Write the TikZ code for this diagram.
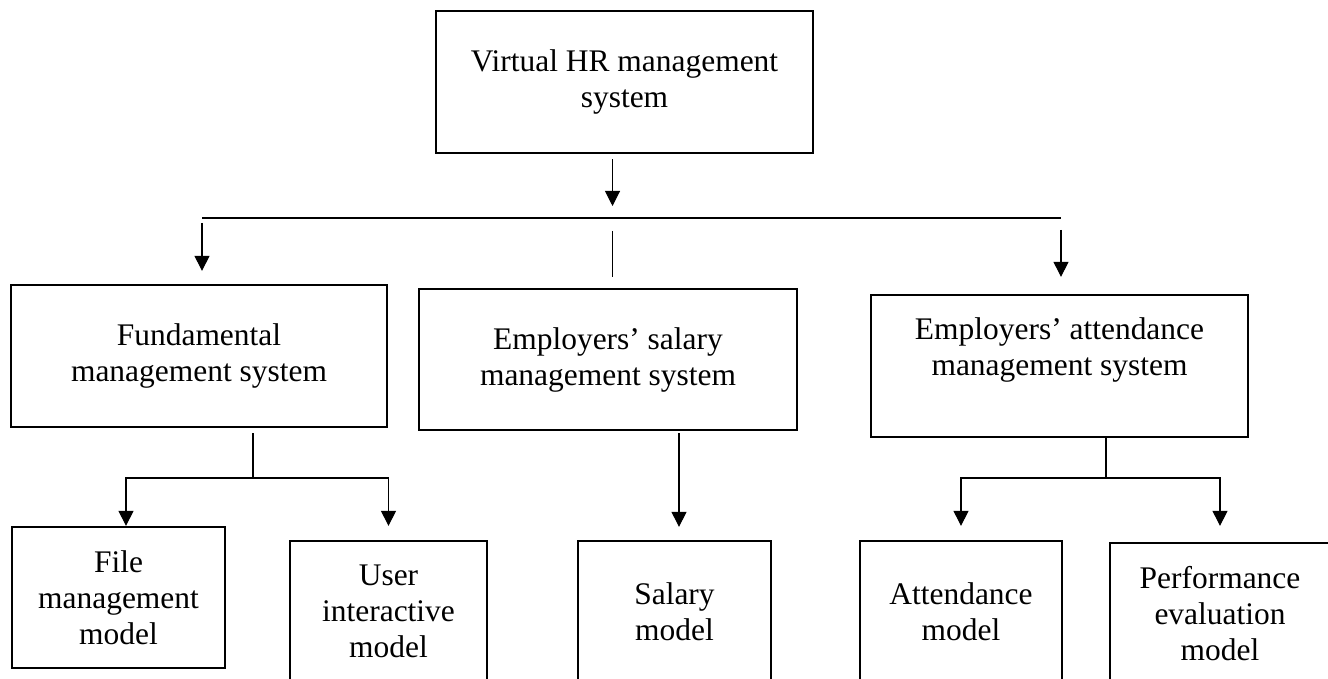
\documentclass[tikz,border=0pt]{standalone}
\usepackage{fontspec}
\setmainfont{Liberation Serif}
\usetikzlibrary{arrows.meta}

\begin{document}
\begin{tikzpicture}[line width=0.6pt, >={Triangle[width=0.3cm, length=0.3cm]},
		box/.style={rectangle, draw=black, line width=1.3pt, align=center, font=\fontsize{17.9}{20.5}\selectfont},
		sysbox/.style={box, minimum width=7.54cm, minimum height=2.84cm},
		modbox/.style={box, minimum height=2.82cm},
		boxtext/.style={align=center, font=\fontsize{17.9}{20.5}\selectfont}]
		
		\useasboundingbox (0, 0) rectangle (26.56, -13.58);
		
		% Level 0
		\node[sysbox] (vhr) at (12.49, -1.64) {Virtual HR management\\system};
		
		% Level 1
		\node[sysbox, minimum width=7.52cm] (fund) at (3.98, -7.12) {Fundamental\\management system};
		\node[sysbox, minimum width=7.56cm, minimum height=2.82cm] (sal) at (12.16, -7.19) {Employers’ salary\\management system};
		\node[sysbox] (att) at (21.19, -7.32) {};
		\node[boxtext] (att-txt) at (21.19, -7.0) {Employers’ attendance\\management system};
		
		% Level 2
		\node[modbox, minimum width=4.26cm] (file) at (2.37, -11.95) {File\\management\\model};
		\node[modbox, minimum width=3.94cm] (user) at (7.77, -12.23) {User\\interactive\\model};
		\node[modbox, minimum width=3.86cm] (salm) at (13.49, -12.23) {Salary\\model};
		\node[modbox, minimum width=4.04cm] (attm) at (19.22, -12.23) {Attendance\\model};
		\node[modbox, minimum width=4.4cm] (perf) at (24.4, -12.27) {Performance\\evaluation\\model};
		
		% Bus level 0 -> 1
		\coordinate (bus-l) at (4.04, -4.36);
		\coordinate (bus-m) at (12.25, -4.36);
		\coordinate (bus-r) at (21.22, -4.36);
		
		\draw[->, shorten <=0.1cm, shorten >=0.24cm] (vhr.south -| bus-m) -- (bus-m);
		\draw (bus-l) -- (bus-r);
		\draw[->, shorten <=0.1cm, shorten >=0.26cm] (bus-l) -- (bus-l |- fund.north);
		\draw[shorten <=0.26cm, shorten >=0.22cm] (bus-m) -- (bus-m |- sal.north);
		\draw[->, shorten <=0.24cm, shorten >=0.34cm] (bus-r) -- (bus-r |- att.north);
		
		% Fundamental -> models
		\coordinate (fund-j) at (5.06, -9.56);
		\draw[shorten <=0.1cm] (fund.south -| fund-j) -- (fund-j);
		\draw[->] (fund-j) -| ([xshift=0.15cm]file.north);
		\draw[->, shorten >=0.28cm] (fund-j) -| (user.north);
		
		% Salary -> model
		\draw[->, shorten <=0.04cm, shorten >=0.26cm] ([xshift=1.42cm]sal.south) -- ([xshift=1.42cm]sal.south |- salm.north);
		
		% Attendance -> models
		\coordinate (att-j) at (22.12, -9.56);
		\draw (att.south -| att-j) -- (att-j);
		\draw[->, shorten >=0.28cm] (att-j) -| (attm.north);
		\draw[->, shorten >=0.32cm] (att-j) -| (perf.north);
		
	\end{tikzpicture}
\end{document}
